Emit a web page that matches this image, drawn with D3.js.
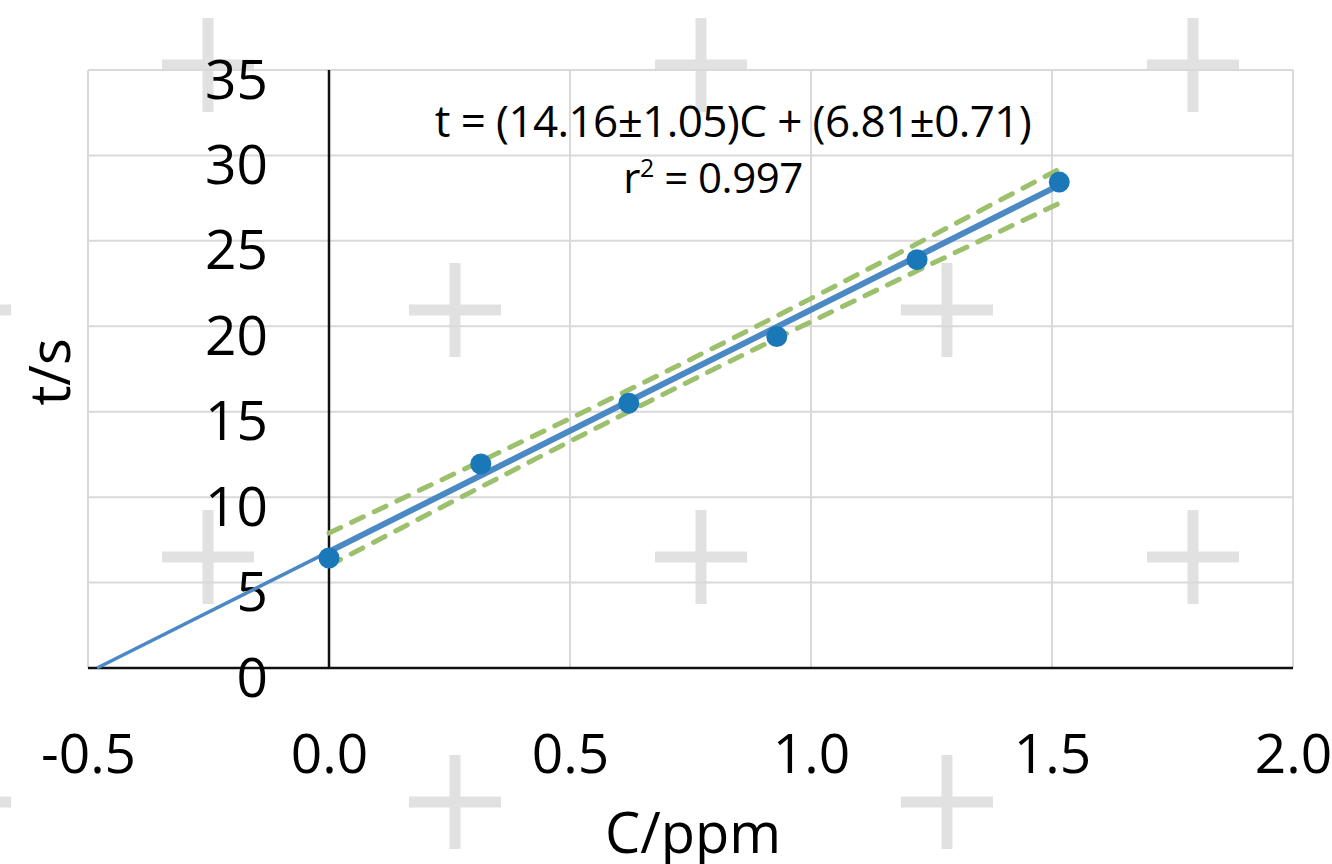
<!DOCTYPE html>
<html lang="en">
  <head>
    <meta charset="utf-8">
    <title>t vs C calibration</title>
    <script src="https://d3js.org/d3.v7.min.js"></script>
    <style>
      body { margin: 0; background: #fff; }
      text { font-family: "Open Sans", "Noto Sans", sans-serif; fill: #000; }
    </style>
  </head>
  <body>
  <div id="chart"></div>
  <script>

  // data
  var concPpm = [0.0, 0.315, 0.622, 0.929, 1.22, 1.515];
  var timeS   = [6.44, 11.94, 15.5, 19.4, 23.9, 28.44];

  // fitted line t = 14.16 C + 6.81, drawn from its x-intercept to the last point
  var fitX     = [-0.481, 0.0, 1.515];
  var fitY     = [0.0, 6.81, 28.26];

  // confidence band (dashed)
  var bandX     = [0.0, 0.76, 1.515];
  var bandUpper = [7.9, 18.2, 29.2];
  var bandLower = [6.0, 16.95, 27.2];

  var xTicks = [-0.5, 0.0, 0.5, 1.0, 1.5, 2.0];
  var yTicks = [0, 5, 10, 15, 20, 25, 30, 35];

  // light watermark crosses in the background
  var crossCentres = [[208, 65], [701, 65], [1193, 65],
                      [-35, 310], [455, 310], [947, 310],
                      [208, 557], [701, 557], [1193, 557],
                      [-35, 802], [455, 802], [947, 802]];

  var w = 1332;
  var h = 864;
  var margin = {top: 70, right: 39, bottom: 196, left: 88};

  var svg = d3.select("#chart")
    .append("svg")
    .attr("width", w)
    .attr("height", h);

  svg.append("rect")
    .attr("width", w)
    .attr("height", h)
    .attr("fill", "#fff");

  var xScale = d3.scaleLinear()
    .domain([-0.5, 2.0])
    .range([margin.left, w - margin.right]);

  var yScale = d3.scaleLinear()
    .domain([0, 35])
    .range([h - margin.bottom, margin.top]);

  // watermark
  var marks = svg.append("g").attr("fill", "#e1e1e1");
  crossCentres.forEach(function(c) {
    marks.append("rect")
      .attr("x", c[0] - 46).attr("y", c[1] - 5.5)
      .attr("width", 92).attr("height", 11);
    marks.append("rect")
      .attr("x", c[0] - 5.5).attr("y", c[1] - 47)
      .attr("width", 11).attr("height", 94);
  });

  // grid
  svg.append("g")
    .selectAll("line")
    .data(xTicks)
    .enter().append("line")
      .attr("x1", d => xScale(d))
      .attr("x2", d => xScale(d))
      .attr("y1", yScale(0))
      .attr("y2", yScale(35))
      .attr("stroke", "#d9d9d9")
      .attr("stroke-width", 2);

  svg.append("g")
    .selectAll("line")
    .data(yTicks)
    .enter().append("line")
      .attr("x1", xScale(-0.5))
      .attr("x2", xScale(2.0))
      .attr("y1", d => yScale(d))
      .attr("y2", d => yScale(d))
      .attr("stroke", "#d9d9d9")
      .attr("stroke-width", 2);

  // axes through zero
  svg.append("line")
    .attr("x1", xScale(-0.5)).attr("x2", xScale(2.0))
    .attr("y1", yScale(0)).attr("y2", yScale(0))
    .attr("stroke", "#111").attr("stroke-width", 2.5);
  svg.append("line")
    .attr("x1", xScale(0)).attr("x2", xScale(0))
    .attr("y1", yScale(0)).attr("y2", yScale(35))
    .attr("stroke", "#111").attr("stroke-width", 2.5);

  // tick labels
  var xAxis = d3.axisBottom(xScale)
    .tickValues(xTicks)
    .tickSize(0)
    .tickFormat(d3.format(".1f"));

  var gx = svg.append("g")
    .attr("transform", `translate(0, ${yScale(0)})`)
    .call(xAxis);
  gx.select(".domain").remove();
  gx.selectAll("text")
    .attr("y", 105)
    .attr("dy", 0)
    .style("font-size", "55px")
    .style("font-family", '"Open Sans", sans-serif')
    .attr("fill", "#000")
    .text(d => d < 0 ? "-" + d3.format(".1f")(-d) : d3.format(".1f")(d));

  var yAxis = d3.axisLeft(yScale)
    .tickValues(yTicks)
    .tickSize(0)
    .tickPadding(0);

  var gy = svg.append("g")
    .attr("transform", "translate(268, 0)")
    .call(yAxis);
  gy.select(".domain").remove();
  gy.selectAll("text")
    .attr("x", 0)
    .attr("dy", 28)
    .style("font-size", "55px")
    .style("font-family", '"Open Sans", sans-serif')
    .attr("fill", "#000");

  // axis titles
  svg.append("text")
    .attr("x", 693)
    .attr("y", 853)
    .attr("text-anchor", "middle")
    .style("font-size", "56px")
    .text("C/ppm");

  svg.append("text")
    .attr("transform", "translate(70, 372) rotate(-90)")
    .attr("text-anchor", "middle")
    .style("font-size", "56px")
    .text("t/s");

  // confidence band
  var bandLine = d3.line()
    .x(d => xScale(d[0]))
    .y(d => yScale(d[1]))
    .curve(d3.curveNatural);

  [bandUpper, bandLower].forEach(function(b) {
    svg.append("path")
      .attr("d", bandLine(bandX.map((x, i) => [x, b[i]])))
      .attr("fill", "none")
      .attr("stroke", "#9cc06b")
      .attr("stroke-width", 5)
      .attr("stroke-dasharray", "13 12")
      .attr("stroke-linecap", "round");
  });

  // fitted line, thinner where extrapolated
  var fitLine = d3.line()
    .x(d => xScale(d[0]))
    .y(d => yScale(d[1]));

  svg.append("path")
    .attr("d", fitLine([[fitX[0], fitY[0]], [fitX[1], fitY[1]]]))
    .attr("stroke", "#4a89c3")
    .attr("stroke-width", 3.5)
    .attr("fill", "none");

  svg.append("path")
    .attr("d", fitLine([[fitX[1], fitY[1]], [fitX[2], fitY[2]]]))
    .attr("stroke", "#4a89c3")
    .attr("stroke-width", 6)
    .attr("fill", "none");

  // points
  svg.append("g")
    .selectAll("circle")
    .data(concPpm)
    .enter().append("circle")
      .attr("cx", d => xScale(d))
      .attr("cy", (d, i) => yScale(timeS[i]))
      .attr("r", 10.5)
      .attr("fill", "#1a78b9");

  // equation
  svg.append("text")
    .attr("x", 733)
    .attr("y", 137)
    .attr("text-anchor", "middle")
    .style("font-size", "44px")
    .style("letter-spacing", "-0.6px")
    .text("t = (14.16\u00b11.05)C + (6.81\u00b10.71)");

  var r2 = svg.append("text")
    .attr("x", 713)
    .attr("y", 193)
    .attr("text-anchor", "middle")
    .style("font-size", "42px")
    .style("letter-spacing", "-0.5px");
  r2.append("tspan").text("r");
  r2.append("tspan").attr("dy", -16).style("font-size", "25px").text("2");
  r2.append("tspan").attr("dy", 16).text(" = 0.997");

  </script>
  </body>
</html>
